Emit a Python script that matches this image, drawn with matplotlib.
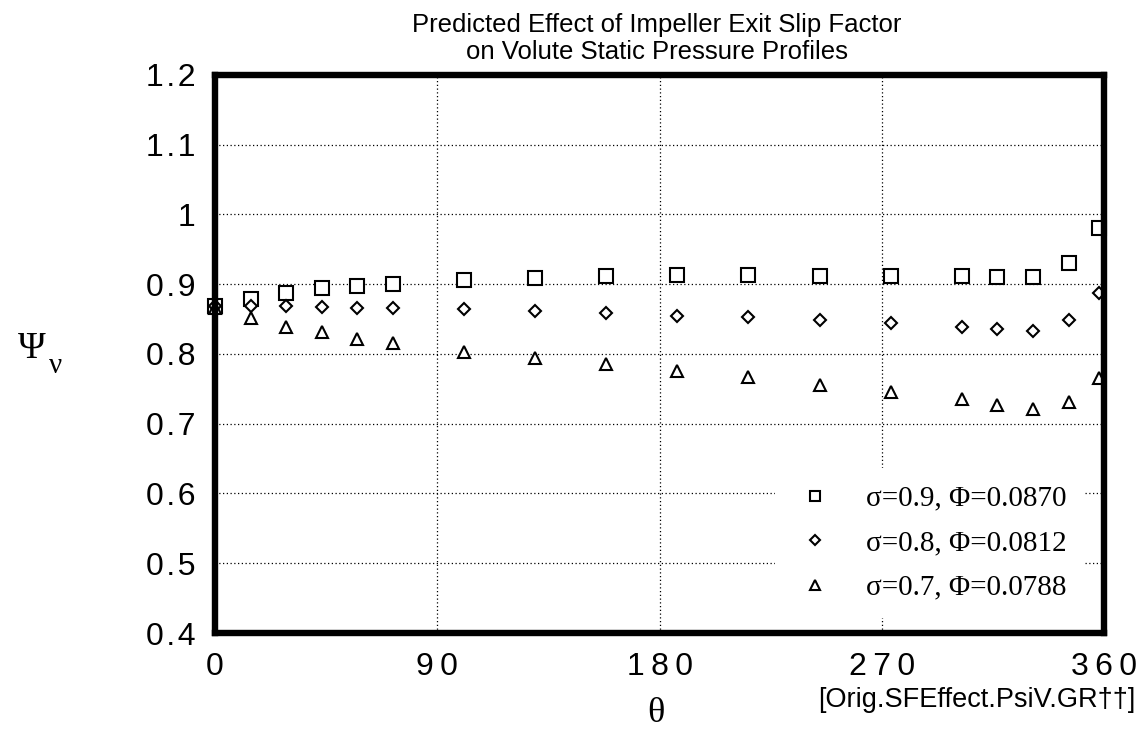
import numpy as np
import matplotlib
matplotlib.use("Agg")
import matplotlib.pyplot as plt

# dados
theta = [0, 14.4, 28.8, 43.2, 57.6, 72, 100.8, 129.6, 158.4, 187.2, 216,
         244.8, 273.6, 302.4, 316.8, 331.2, 345.6, 358]
psi_s09 = [0.868, 0.879, 0.887, 0.894, 0.897, 0.900, 0.906, 0.909, 0.912,
           0.913, 0.913, 0.912, 0.912, 0.911, 0.910, 0.910, 0.930, 0.980]
psi_s08 = [0.868, 0.869, 0.8685, 0.867, 0.866, 0.866, 0.864, 0.861, 0.859,
           0.855, 0.853, 0.848, 0.844, 0.839, 0.836, 0.833, 0.848, 0.888]
psi_s07 = [0.866, 0.852, 0.839, 0.831, 0.822, 0.815, 0.803, 0.794, 0.785,
           0.776, 0.767, 0.755, 0.746, 0.735, 0.727, 0.721, 0.731, 0.766]
labels = ["\u03c3=0.9, \u03a6=0.0870",
          "\u03c3=0.8, \u03a6=0.0812",
          "\u03c3=0.7, \u03a6=0.0788"]
xticks = [0, 90, 180, 270, 360]
xtick_labels = ["0", "90", "180", "270", "360"]
yticks = [0.4, 0.5, 0.6, 0.7, 0.8, 0.9, 1.0, 1.1, 1.2]
ytick_labels = ["0.4", "0.5", "0.6", "0.7", "0.8", "0.9", "1", "1.1", "1.2"]

sans = ["Liberation Sans", "DejaVu Sans"]
serif = ["Liberation Serif", "DejaVu Serif"]

def spaced(s, sep):
    # espaçamento largo entre caracteres, como no original
    return sep.join(s)

fig = plt.figure(figsize=(11.42, 7.34), dpi=100)
ax = fig.add_axes([0.1883, 0.1376, 0.7785, 0.7604])

ax.plot(theta, psi_s09, linestyle="none", marker="s", ms=9.5, mfc="white",
        mec="black", mew=1.5, label=labels[0], clip_on=False, zorder=3)
ax.plot(theta, psi_s08, linestyle="none", marker="D", ms=6.3, mfc="white",
        mec="black", mew=1.5, label=labels[1], clip_on=False, zorder=3)
ax.plot(theta, psi_s07, linestyle="none", marker="^", ms=8.5, mfc="white",
        mec="black", mew=1.5, label=labels[2], clip_on=False, zorder=3)

ax.set_xlim(0, 360)
ax.set_ylim(0.4, 1.2)
ax.set_xticks(xticks)
ax.set_xticklabels([spaced(t, "\u2009") for t in xtick_labels])
ax.set_yticks(yticks)
ax.set_yticklabels([spaced(t, "\u200a") for t in ytick_labels])
ax.tick_params(length=0, labelsize=23)
ax.tick_params(axis="x", pad=14)
ax.tick_params(axis="y", pad=14)
for lab in ax.get_xticklabels() + ax.get_yticklabels():
    lab.set_fontfamily(sans)

ax.grid(True, color="black", linestyle=(0, (1, 2)), linewidth=0.9)
ax.set_axisbelow(True)
for sp in ax.spines.values():
    sp.set_linewidth(4.6)
    sp.set_zorder(4)

leg = ax.legend(loc="upper left", bbox_to_anchor=(0.614, 0.322),
                frameon=True, fancybox=False, framealpha=1, edgecolor="none",
                facecolor="white", handletextpad=1.02, labelspacing=0.62,
                borderpad=0.6, prop={"family": serif, "size": 21},
                markerscale=0.78, handlelength=1.5)
leg.set_zorder(2.5)

fig.text(0.575, 0.982, "Predicted Effect of Impeller Exit Slip Factor\n"
         "on Volute Static Pressure Profiles", ha="center", va="top",
         fontsize=18.5, family=sans, linespacing=1.15)
fig.text(0.574, 0.005, "\u03b8", ha="center", va="bottom", fontsize=26,
         family=serif)
fig.text(0.016, 0.502, "\u03a8", ha="left", va="bottom", fontsize=27,
         family=serif)
fig.text(0.043, 0.484, "\u03bd", ha="left", va="bottom", fontsize=21,
         family=serif)
fig.text(0.855, 0.028, "[Orig.SFEffect.PsiV.GR\u2020\u2020]", ha="center",
         va="bottom", fontsize=19.5, family=sans)

fig.savefig("out.png", dpi=100, facecolor="white")
